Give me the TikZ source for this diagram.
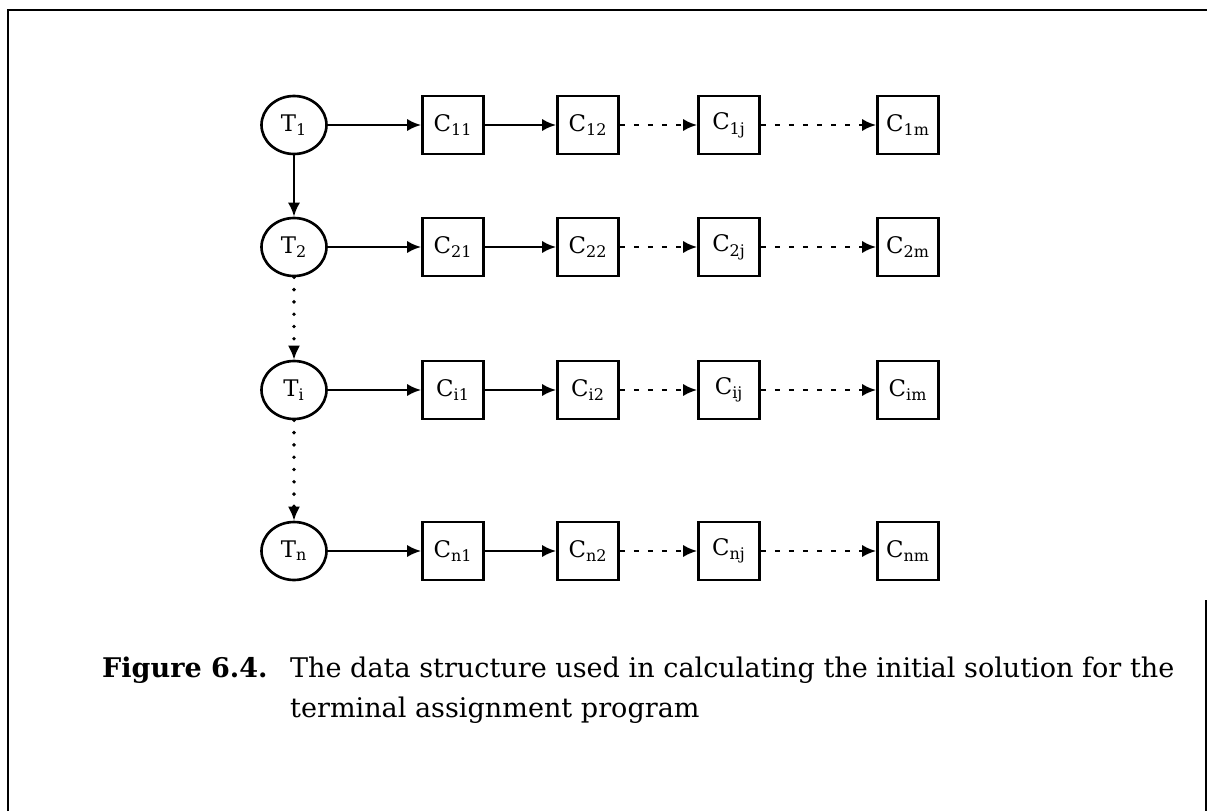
\documentclass[tikz,border=0pt]{standalone}
\usepackage{fontspec}
\setmainfont{DejaVu Serif}
\usetikzlibrary{arrows.meta,positioning,shapes.geometric}

\begin{document}
\begin{tikzpicture}[
  x=0.02cm, y=-0.02cm,
  >={Latex[length=8pt,width=7pt]},
  line width=1.5pt,
  font=\fontsize{13}{15}\selectfont,
  term/.style={draw,ellipse,minimum width=1.3cm,minimum height=1.16cm,inner sep=0pt},
  cell/.style={draw,minimum width=1.22cm,minimum height=1.16cm,inner sep=0pt},
  link/.style={->},
  gap/.style={->,dash pattern=on 3pt off 5pt},
  dots/.style={->,line width=2.2pt,line cap=round,dash pattern=on 0pt off 7pt},
  captext/.style={anchor=base west,font=\fontsize{15.4}{17}\selectfont}
]
  \useasboundingbox (0,0) rectangle (1209,811);

  % frame of the page
  \draw[line width=1.4pt] (8,811) -- (8,10) -- (1207,10);
  \draw[line width=1.4pt] (1206,600) -- (1206,811);

  % one row per terminal
  \foreach \row/\y in {1/125,2/247,i/390,n/551} {
    \node[term] (T\row) at (294,\y) {T\textsubscript{\row}};
    \node[cell] (C\row1) at (453,\y) {C\textsubscript{\row1}};
    \node[cell] (C\row2) at (588,\y) {C\textsubscript{\row2}};
    \node[cell] (C\row j) at (729,\y) {C\textsubscript{\row j}};
    \node[cell] (C\row m) at (908,\y) {C\textsubscript{\row m}};

    \draw[link] (T\row) -- (C\row1);
    \draw[link] (C\row1) -- (C\row2);
    \draw[gap] (C\row2) -- (C\row j);
    \draw[gap] (C\row j) -- (C\row m);
  }

  \draw[link] (T1) -- (T2);
  \draw[dots] (T2) -- (Ti);
  \draw[dots] (Ti) -- (Tn);

  % caption
  \node[captext,font=\fontsize{15.4}{17}\selectfont\bfseries] (fignum) at (95,677) {Figure 6.4.};
  \node[captext] (cap1) at (283,677)
    {The data structure used in calculating the initial solution for the};
  \node[captext] (cap2) at (283,717) {terminal assignment program};
\end{tikzpicture}
\end{document}
